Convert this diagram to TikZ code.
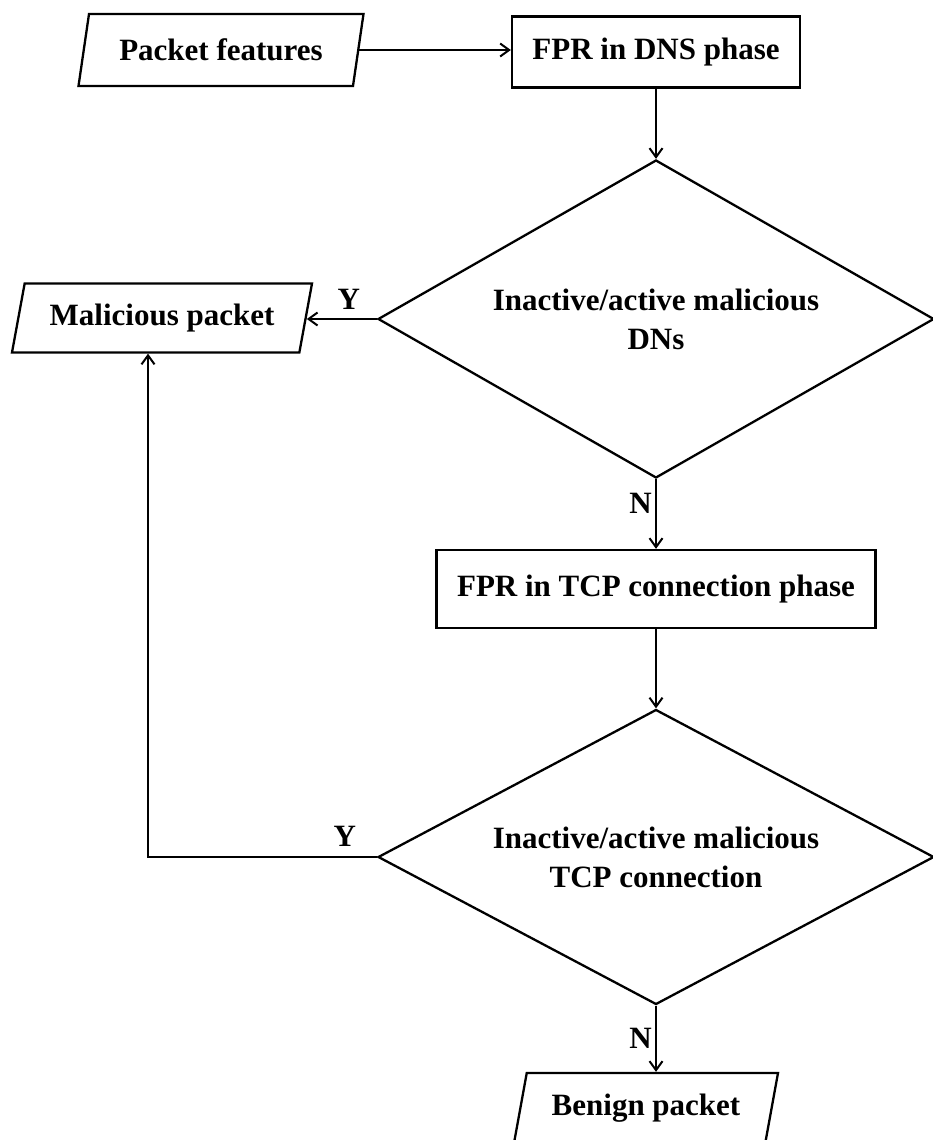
\documentclass[tikz,border=0pt]{standalone}
\usepackage{fontspec}
\setmainfont{Liberation Serif}
\usetikzlibrary{shapes.geometric,arrows.meta,positioning}
\tikzset{
  box/.style={rectangle, draw, line width=2.3pt, align=center, font=\bfseries\fontsize{31}{39}\selectfont},
  procbox/.style={box, minimum height=72pt},
  iobox/.style={box, trapezium, trapezium left angle=70, trapezium right angle=110, trapezium stretches body, minimum height=72pt},
  decbox/.style={box, diamond, aspect=1.75, inner sep=2pt},
  arrow/.style={-{Straight Barb[length=9pt,width=13pt]}, line width=2pt},
  lbl/.style={font=\bfseries\fontsize{31}{36}\selectfont},
}

\begin{document}
\begin{tikzpicture}[x=1pt, y=-1pt]
  \useasboundingbox (0,0) rectangle (933,1140);

  % DNS phase
  \node[iobox, minimum width=285pt] (feat) at (221,50) {Packet features};
  \node[procbox, minimum width=288pt, minimum height=71pt] (dns) at (656,52) {FPR in DNS phase};
  \node[decbox, minimum width=556pt, minimum height=318pt] (dnsq) at (656,319) {Inactive/active malicious\\DNs};
  \node[iobox, minimum width=300pt, minimum height=69pt] (mal) at (162,318) {Malicious packet};

  % TCP connection phase
  \node[procbox, minimum width=439pt, minimum height=78pt] (tcp) at (656,589) {FPR in TCP connection phase};
  \node[decbox, minimum width=556pt, minimum height=295pt] (tcpq) at (656,857) {Inactive/active malicious\\TCP connection};
  \node[iobox, minimum width=264pt, minimum height=70pt] (benign) at (646,1108) {Benign packet};

  % Connectors
  \draw[arrow] (feat.east) -- (feat.east -| dns.west);
  \draw[arrow] (dns) -- (dnsq);
  \draw[arrow] (dnsq.west) -- node[lbl, pos=0.4, above=5pt] {Y} (dnsq.west -| mal.east);
  \draw[arrow] (dnsq) -- node[lbl, pos=0.35, left] {N} (tcp);
  \draw[arrow] (tcp) -- (tcpq);
  \draw[arrow] (tcpq.west) -| node[lbl, pos=0.07, above=6pt] {Y} ([xshift=-14pt]mal.south);
  \draw[arrow] (tcpq.south) -- node[lbl, left] {N} (tcpq.south |- benign.north);

\end{tikzpicture}
\end{document}
